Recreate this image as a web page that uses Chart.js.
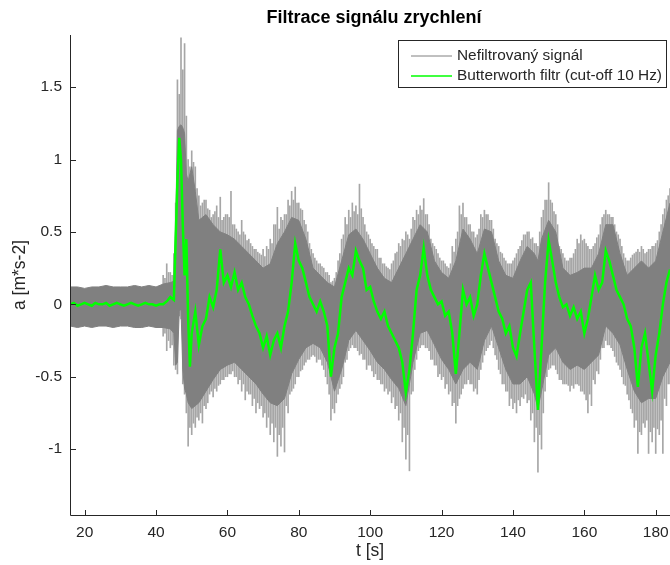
<!DOCTYPE html>
<html>
<head>
<meta charset="utf-8">
<script src="https://cdn.jsdelivr.net/npm/chart.js@4.4.1/dist/chart.umd.min.js"></script>
<style>
  html, body { margin: 0; padding: 0; background: #fff; overflow: hidden; }
  canvas { display: block; }
</style>
</head>
<body>
<canvas id="chart" width="670" height="565"></canvas>
<script>
// Axis ticks
const xTicks = [20, 40, 60, 80, 100, 120, 140, 160, 180];
const yTicks = [-1, -0.5, 0, 0.5, 1, 1.5];
const chartTitle = "Filtrace signálu zrychlení";

// Unfiltered signal - dense band (upper / lower envelope)
const tCore = [16, 18, 20, 22, 24, 26, 28, 30, 32, 34, 36, 38, 40, 42, 44,
  45, 45.5, 46, 46.5, 47, 47.5, 48, 48.5, 49, 50, 51, 52,
  54, 56, 58, 60, 62, 64, 66, 68, 70, 72, 74, 76, 78, 80, 82, 84, 86, 88, 90, 92,
  94, 96, 98, 100, 102, 104, 106, 108, 110, 112, 114, 116, 118, 120, 122, 124, 126, 128, 130, 132,
  134, 136, 138, 140, 142, 144, 146, 147, 148,
  150, 152, 154, 156, 158, 160, 162, 164, 166, 168, 170, 172, 174, 176, 178, 180, 182, 184];
const coreHi = [0.12, 0.12, 0.11, 0.12, 0.12, 0.13, 0.12, 0.12, 0.12, 0.13, 0.12, 0.13, 0.12, 0.14, 0.15,
  0.16, 0.55, 1.2, 1.23, 1.24, 1.22, 1.18, 0.9, 0.85, 0.95, 0.78, 0.58,
  0.62, 0.55, 0.5, 0.48, 0.45, 0.4, 0.35, 0.3, 0.25, 0.28, 0.42, 0.5, 0.6, 0.58, 0.45, 0.25, 0.2, 0.15, 0.12, 0.3,
  0.48, 0.52, 0.45, 0.35, 0.25, 0.18, 0.15, 0.25, 0.35, 0.45, 0.55, 0.5, 0.3, 0.22, 0.18, 0.3, 0.52, 0.45, 0.35, 0.52,
  0.5, 0.3, 0.2, 0.18, 0.3, 0.4, 0.35, 0.3, 0.45,
  0.58, 0.5, 0.25, 0.2, 0.22, 0.25, 0.25, 0.35, 0.55, 0.55, 0.35, 0.2, 0.25, 0.3, 0.25, 0.3, 0.5, 0.7];
const coreLo = [-0.15, -0.16, -0.15, -0.16, -0.15, -0.15, -0.16, -0.15, -0.15, -0.16, -0.16, -0.15, -0.16, -0.16, -0.17,
  -0.2, -0.42, -0.4, -0.05, -0.03, -0.45, -0.58, -0.62, -0.68, -0.72, -0.7, -0.68,
  -0.6, -0.52, -0.45, -0.42, -0.4, -0.45, -0.5, -0.55, -0.62, -0.68, -0.7, -0.65, -0.48, -0.38, -0.3, -0.27, -0.3, -0.4, -0.6, -0.45,
  -0.25, -0.18, -0.25, -0.32, -0.4, -0.45, -0.52, -0.58, -0.7, -0.4, -0.2, -0.18, -0.28, -0.38, -0.45, -0.55, -0.45, -0.4, -0.45, -0.25,
  -0.15, -0.3, -0.45, -0.55, -0.55, -0.5, -0.62, -0.72, -0.6,
  -0.35, -0.3, -0.4, -0.45, -0.42, -0.45, -0.4, -0.35, -0.15, -0.2, -0.28, -0.45, -0.6, -0.68, -0.65, -0.65, -0.5, -0.4];

// Unfiltered signal - single spikes beyond the band (whole seconds)
const tSpike = [42, 43, 44, 45, 46, 47, 48, 49, 50, 51, 52, 53, 54, 55, 56, 57, 58, 59, 60, 61,
  62, 63, 64, 65, 66, 67, 68, 69, 70, 71, 72, 73, 74, 75, 76, 77, 78, 79, 80, 81,
  82, 83, 84, 85, 86, 87, 88, 89, 90, 91, 92, 93, 94, 95, 96, 97, 98, 99, 100, 101,
  102, 103, 104, 105, 106, 107, 108, 109, 110, 111, 112, 113, 114, 115, 116, 117, 118, 119, 120, 121,
  122, 123, 124, 125, 126, 127, 128, 129, 130, 131, 132, 133, 134, 135, 136, 137, 138, 139, 140, 141,
  142, 143, 144, 145, 146, 147, 148, 149, 150, 151, 152, 153, 154, 155, 156, 157, 158, 159, 160, 161,
  162, 163, 164, 165, 166, 167, 168, 169, 170, 171, 172, 173, 174, 175, 176, 177, 178, 179, 180, 181,
  182, 183, 184];
const spikeHi = [0.2, 0.28, 0.22, 0.35, 1.55, 1.84, 1.8, 1.0, 1.06, 0.95, 0.75, 0.7, 0.72, 0.65, 0.62, 0.68, 0.74, 0.6, 0.62, 0.78,
  0.55, 0.5, 0.58, 0.48, 0.45, 0.4, 0.38, 0.35, 0.38, 0.4, 0.45, 0.55, 0.67, 0.6, 0.62, 0.72, 0.78, 0.81, 0.7, 0.65,
  0.55, 0.42, 0.35, 0.3, 0.28, 0.25, 0.22, 0.15, 0.18, 0.3, 0.45, 0.6, 0.65, 0.7, 0.68, 0.83, 0.6, 0.5, 0.45, 0.4,
  0.38, 0.32, 0.28, 0.25, 0.28, 0.35, 0.42, 0.45, 0.5, 0.45, 0.6, 0.65, 0.68, 0.73, 0.62, 0.45, 0.4, 0.35, 0.3, 0.28,
  0.25, 0.4, 0.45, 0.68, 0.7, 0.6, 0.55, 0.5, 0.48, 0.62, 0.65, 0.62, 0.58, 0.45, 0.4, 0.35, 0.3, 0.28, 0.3, 0.35,
  0.4, 0.48, 0.5, 0.45, 0.42, 0.4, 0.6, 0.72, 0.84, 0.7, 0.62, 0.4, 0.35, 0.3, 0.32, 0.35, 0.45, 0.48, 0.45, 0.4,
  0.38, 0.42, 0.48, 0.6, 0.65, 0.62, 0.6, 0.5, 0.45, 0.35, 0.3, 0.32, 0.35, 0.38, 0.4, 0.35, 0.38, 0.4, 0.42, 0.5,
  0.62, 0.72, 0.8];
const spikeLo = [-0.22, -0.32, -0.3, -0.42, -0.48, -0.1, -0.62, -0.98, -0.9, -0.85, -0.8, -0.82, -0.72, -0.62, -0.64, -0.6, -0.55, -0.52, -0.5, -0.48,
  -0.5, -0.55, -0.6, -0.66, -0.62, -0.7, -0.75, -0.72, -0.78, -0.85, -0.9, -0.95, -1.05, -0.98, -1.02, -0.75, -0.6, -0.55, -0.5, -0.45,
  -0.4, -0.38, -0.35, -0.4, -0.38, -0.45, -0.55, -0.8, -0.75, -0.62, -0.55, -0.4, -0.32, -0.28, -0.3, -0.35, -0.38, -0.45, -0.42, -0.5,
  -0.52, -0.55, -0.6, -0.62, -0.68, -0.72, -0.8, -0.95, -1.07, -1.15, -0.6, -0.38, -0.3, -0.28, -0.3, -0.38, -0.42, -0.5, -0.52, -0.58,
  -0.62, -0.7, -0.82, -0.65, -0.58, -0.55, -0.55, -0.6, -0.62, -0.45, -0.35, -0.3, -0.25, -0.35, -0.45, -0.55, -0.6, -0.7, -0.72, -0.75,
  -0.7, -0.65, -0.68, -0.8, -0.95, -1.16, -1.0, -0.6, -0.45, -0.42, -0.45, -0.52, -0.55, -0.55, -0.6, -0.58, -0.55, -0.6, -0.62, -0.75,
  -0.7, -0.55, -0.48, -0.3, -0.25, -0.28, -0.32, -0.4, -0.45, -0.55, -0.62, -0.72, -0.85, -1.03, -0.9, -0.85, -1.03, -0.95, -1.03, -0.9,
  -1.03, -0.7, -0.55];

// Unfiltered signal - spikes in between (half seconds)
const tSpike2 = [42.5, 43.5, 44.5, 45.5, 46.5, 47.5, 48.5, 49.5, 50.5, 51.5, 52.5, 53.5, 54.5, 55.5, 56.5, 57.5, 58.5, 59.5, 60.5, 61.5,
  62.5, 63.5, 64.5, 65.5, 66.5, 67.5, 68.5, 69.5, 70.5, 71.5, 72.5, 73.5, 74.5, 75.5, 76.5, 77.5, 78.5, 79.5, 80.5, 81.5,
  82.5, 83.5, 84.5, 85.5, 86.5, 87.5, 88.5, 89.5, 90.5, 91.5, 92.5, 93.5, 94.5, 95.5, 96.5, 97.5, 98.5, 99.5, 100.5, 101.5,
  102.5, 103.5, 104.5, 105.5, 106.5, 107.5, 108.5, 109.5, 110.5, 111.5, 112.5, 113.5, 114.5, 115.5, 116.5, 117.5, 118.5, 119.5, 120.5, 121.5,
  122.5, 123.5, 124.5, 125.5, 126.5, 127.5, 128.5, 129.5, 130.5, 131.5, 132.5, 133.5, 134.5, 135.5, 136.5, 137.5, 138.5, 139.5, 140.5, 141.5,
  142.5, 143.5, 144.5, 145.5, 146.5, 147.5, 148.5, 149.5, 150.5, 151.5, 152.5, 153.5, 154.5, 155.5, 156.5, 157.5, 158.5, 159.5, 160.5, 161.5,
  162.5, 163.5, 164.5, 165.5, 166.5, 167.5, 168.5, 169.5, 170.5, 171.5, 172.5, 173.5, 174.5, 175.5, 176.5, 177.5, 178.5, 179.5, 180.5, 181.5,
  182.5, 183.5];
const spike2Hi = [0.18, 0.22, 0.2, 0.7, 1.45, 1.62, 1.3, 0.95, 0.98, 0.8, 0.68, 0.72, 0.66, 0.6, 0.64, 0.6, 0.58, 0.62, 0.6, 0.55,
  0.52, 0.48, 0.5, 0.44, 0.42, 0.38, 0.36, 0.34, 0.33, 0.38, 0.42, 0.55, 0.52, 0.58, 0.62, 0.68, 0.72, 0.7, 0.66, 0.58,
  0.5, 0.38, 0.32, 0.28, 0.26, 0.22, 0.2, 0.16, 0.22, 0.35, 0.48, 0.55, 0.6, 0.64, 0.62, 0.66, 0.55, 0.48, 0.42, 0.38,
  0.32, 0.28, 0.26, 0.24, 0.3, 0.36, 0.4, 0.44, 0.48, 0.52, 0.58, 0.62, 0.65, 0.62, 0.55, 0.42, 0.38, 0.32, 0.3, 0.26,
  0.28, 0.36, 0.5, 0.62, 0.6, 0.55, 0.5, 0.46, 0.52, 0.6, 0.62, 0.58, 0.52, 0.42, 0.36, 0.32, 0.28, 0.28, 0.32, 0.38,
  0.44, 0.48, 0.5, 0.46, 0.42, 0.5, 0.65, 0.72, 0.72, 0.64, 0.55, 0.38, 0.32, 0.3, 0.32, 0.38, 0.42, 0.44, 0.42, 0.38,
  0.4, 0.46, 0.55, 0.62, 0.62, 0.6, 0.55, 0.48, 0.4, 0.32, 0.3, 0.34, 0.36, 0.36, 0.38, 0.36, 0.38, 0.4, 0.44, 0.55,
  0.66, 0.75];
const spike2Lo = [-0.2, -0.25, -0.28, -0.45, -0.08, -0.55, -0.75, -0.85, -0.82, -0.78, -0.75, -0.7, -0.68, -0.6, -0.58, -0.56, -0.52, -0.5, -0.48, -0.46,
  -0.5, -0.52, -0.55, -0.6, -0.62, -0.65, -0.68, -0.7, -0.75, -0.78, -0.82, -0.85, -0.9, -0.85, -0.7, -0.62, -0.58, -0.5, -0.46, -0.42,
  -0.38, -0.36, -0.36, -0.38, -0.42, -0.5, -0.62, -0.72, -0.68, -0.58, -0.5, -0.38, -0.3, -0.3, -0.32, -0.34, -0.38, -0.42, -0.46, -0.48,
  -0.52, -0.55, -0.58, -0.6, -0.64, -0.7, -0.75, -0.85, -0.9, -0.62, -0.45, -0.32, -0.28, -0.3, -0.32, -0.38, -0.42, -0.48, -0.5, -0.55,
  -0.6, -0.68, -0.7, -0.62, -0.55, -0.52, -0.55, -0.58, -0.52, -0.4, -0.32, -0.28, -0.3, -0.38, -0.48, -0.55, -0.6, -0.65, -0.68, -0.66,
  -0.64, -0.62, -0.66, -0.75, -0.85, -0.9, -0.75, -0.5, -0.44, -0.42, -0.48, -0.52, -0.55, -0.56, -0.56, -0.55, -0.56, -0.6, -0.66, -0.62,
  -0.52, -0.46, -0.38, -0.3, -0.28, -0.3, -0.36, -0.42, -0.5, -0.56, -0.66, -0.75, -0.8, -0.88, -0.82, -0.8, -0.88, -0.85, -0.86, -0.8,
  -0.65, -0.55];

// Butterworth filtered signal
const tGreen = [16, 17, 18, 19, 20, 21, 22, 23, 24, 25, 26, 27, 28, 29, 30, 31, 32, 33, 34, 35,
  36, 37, 38, 39, 40, 41, 42, 43, 44, 45, 45.5, 46, 46.5, 47, 47.5, 48, 48.5, 49, 49.5, 50,
  51, 52, 53, 54, 55, 56, 57, 58, 59, 60, 61, 62, 63, 64, 65, 66, 67, 68, 69, 70,
  71, 72, 73, 74, 75, 76, 77, 78, 79, 80, 81, 82, 83, 84, 85, 86, 87, 88, 89, 90,
  91, 92, 93, 94, 95, 96, 97, 98, 99, 100, 101, 102, 103, 104, 105, 106, 107, 108, 109, 110,
  111, 112, 113, 114, 115, 116, 117, 118, 119, 120, 121, 122, 123, 124, 125, 126, 127, 128, 129, 130,
  131, 132, 133, 134, 135, 136, 137, 138, 139, 140, 141, 142, 143, 144, 145, 146, 147, 148, 149, 150,
  151, 152, 153, 154, 155, 156, 157, 158, 159, 160, 161, 162, 163, 164, 165, 166, 167, 168, 169, 170,
  171, 172, 173, 174, 175, 176, 177, 178, 179, 180, 181, 182, 183, 184];
const filtered = [0.0, 0.01, -0.01, 0.0, 0.01, 0.0, -0.01, 0.01, 0.0, 0.0, 0.01, -0.01, 0.0, 0.01, 0.0, -0.01, 0.0, 0.01, 0.0, -0.01,
  0.0, 0.01, 0.0, 0.0, -0.01, 0.0, 0.0, 0.02, 0.05, 0.03, 0.45, 0.85, 1.15, 1.0, 0.55, 0.2, 0.45, -0.1, -0.43, -0.2,
  -0.05, -0.28, -0.15, -0.1, 0.05, -0.02, 0.1, 0.38, 0.15, 0.2, 0.12, 0.22, 0.1, 0.15, 0.05, 0.0, -0.08, -0.15, -0.2, -0.3,
  -0.22, -0.35, -0.25, -0.2, -0.3, -0.15, -0.05, 0.15, 0.42, 0.3, 0.25, 0.15, 0.05, 0.0, -0.05, 0.02, -0.05, -0.15, -0.5, -0.3,
  -0.2, 0.05, 0.15, 0.25, 0.2, 0.37, 0.3, 0.25, 0.1, 0.12, 0.02, -0.05, -0.1, -0.05, -0.15, -0.2, -0.25, -0.3, -0.4, -0.61,
  -0.45, -0.2, 0.1, 0.2, 0.39, 0.2, 0.1, 0.05, 0.0, 0.02, -0.08, -0.05, -0.2, -0.48, -0.2, 0.1, 0.0, 0.05, -0.08, 0.0,
  0.2, 0.35, 0.25, 0.15, 0.05, -0.05, -0.1, -0.2, -0.15, -0.3, -0.36, -0.2, -0.05, 0.1, 0.15, -0.3, -0.73, -0.3, 0.15, 0.44,
  0.3, 0.15, 0.05, -0.02, 0.0, -0.08, -0.02, -0.1, -0.05, -0.2, -0.1, 0.05, 0.2, 0.1, 0.15, 0.37, 0.3, 0.2, 0.1, 0.05,
  0.0, -0.1, -0.15, -0.3, -0.57, -0.3, -0.2, -0.4, -0.6, -0.35, -0.2, 0.0, 0.15, 0.24];

const axisColor = "#262626";
const grayColor = "#808080";
const spikeColor = "#a6a6a6";
const greenColor = "#00ff00";
const fontFamily = '"Liberation Sans", Arial, Helvetica, sans-serif';

const toPoints = (ts, vals) => ts.map((t, i) => ({ x: t, y: vals[i] }));
const toRanges = (ts, lo, hi) => ts.map((t, i) => ({ x: t, y: [lo[i], hi[i]] }));

// Axes drawn MATLAB style: inward ticks, no box, boxed legend, title over the full axes
const matlabLook = {
  id: "matlabLook",
  afterDraw(chart) {
    const ctx = chart.ctx;
    const area = chart.chartArea;
    const xs = chart.scales.x;
    const ys = chart.scales.y;
    ctx.save();
    ctx.strokeStyle = axisColor;
    ctx.lineWidth = 1;
    ctx.beginPath();
    ctx.moveTo(area.left + 0.5, area.top);
    ctx.lineTo(area.left + 0.5, area.bottom + 0.5);
    ctx.lineTo(area.right, area.bottom + 0.5);
    xTicks.forEach((v) => {
      const px = Math.round(xs.getPixelForValue(v)) + 0.5;
      ctx.moveTo(px, area.bottom);
      ctx.lineTo(px, area.bottom - 5);
    });
    yTicks.forEach((v) => {
      const py = Math.round(ys.getPixelForValue(v)) + 0.5;
      ctx.moveTo(area.left, py);
      ctx.lineTo(area.left + 6, py);
    });
    ctx.stroke();

    // title (the original axes run on past the right edge)
    ctx.fillStyle = "#000";
    ctx.font = "bold 18px " + fontFamily;
    ctx.textAlign = "center";
    ctx.textBaseline = "middle";
    ctx.fillText(chartTitle, 374, 18);

    // legend
    const items = chart.data.datasets
      .filter((d) => d.legendRank !== undefined)
      .sort((a, b) => a.legendRank - b.legendRank);
    const bx = 398.5, by = 40.5, bw = 268, bh = 47;
    ctx.fillStyle = "#fff";
    ctx.fillRect(bx, by, bw, bh);
    ctx.strokeStyle = axisColor;
    ctx.strokeRect(bx, by, bw, bh);
    ctx.font = "15.4px " + fontFamily;
    ctx.textAlign = "left";
    items.forEach((d, i) => {
      const y = by + 15.5 + i * 20;
      ctx.strokeStyle = d.borderColor;
      ctx.lineWidth = d.legendWidth;
      ctx.beginPath();
      ctx.moveTo(411, y);
      ctx.lineTo(452, y);
      ctx.stroke();
      ctx.fillStyle = axisColor;
      ctx.fillText(d.label, 457, y);
    });
    ctx.restore();
  },
};

new Chart(document.getElementById("chart"), {
  type: "line",
  data: {
    datasets: [
      {
        label: "Butterworth filtr (cut-off 10 Hz)",
        data: toPoints(tGreen, filtered),
        borderColor: greenColor,
        borderWidth: 2.5,
        pointRadius: 0,
        fill: false,
        order: 0,
        legendRank: 1,
        legendWidth: 1.5,
      },
      {
        label: "Nefiltrovaný signál",
        data: toPoints(tCore, coreHi),
        borderColor: grayColor,
        backgroundColor: grayColor,
        borderWidth: 1,
        pointRadius: 0,
        fill: 2,
        order: 1,
        legendRank: 0,
        legendWidth: 1,
      },
      {
        label: "lower",
        data: toPoints(tCore, coreLo),
        borderColor: grayColor,
        borderWidth: 1,
        pointRadius: 0,
        fill: false,
        order: 2,
      },
      {
        type: "bar",
        label: "spikes",
        data: toRanges(tSpike, spikeLo, spikeHi),
        backgroundColor: spikeColor,
        barThickness: 1,
        grouped: false,
        order: 3,
      },
      {
        type: "bar",
        label: "spikes2",
        data: toRanges(tSpike2, spike2Lo, spike2Hi),
        backgroundColor: spikeColor,
        barThickness: 1,
        grouped: false,
        order: 4,
      },
    ],
  },
  options: {
    responsive: false,
    animation: false,
    devicePixelRatio: 1,
    events: [],
    layout: { padding: { top: 35 } },
    plugins: {
      legend: { display: false },
      tooltip: { enabled: false },
      title: { display: false },
    },
    scales: {
      x: {
        type: "linear",
        min: 15.9,
        max: 184,
        offset: false,
        grid: { display: false, drawTicks: false },
        border: { display: false },
        afterBuildTicks: (scale) => {
          scale.ticks = xTicks.map((v) => ({ value: v }));
        },
        afterFit: (scale) => {
          scale.height = 50;
          scale.paddingLeft = 0;
          scale.paddingRight = 0;
        },
        ticks: {
          color: axisColor,
          padding: 8,
          maxRotation: 0,
          font: { family: fontFamily, size: 15.5 },
          callback: (v) => String(v),
        },
        title: {
          display: true,
          text: "t [s]",
          color: axisColor,
          font: { family: fontFamily, size: 17.5 },
          padding: { top: 0, bottom: 3.5 },
        },
      },
      y: {
        min: -1.455,
        max: 1.86,
        grid: { display: false, drawTicks: false },
        border: { display: false },
        afterBuildTicks: (scale) => {
          scale.ticks = yTicks.map((v) => ({ value: v }));
        },
        afterFit: (scale) => {
          scale.width = 70;
          scale.paddingTop = 0;
          scale.paddingBottom = 0;
        },
        ticks: {
          color: axisColor,
          padding: 8,
          font: { family: fontFamily, size: 15.5 },
          callback: (v) => String(v),
        },
        title: {
          display: true,
          text: "a [m*s-2]",
          color: axisColor,
          font: { family: fontFamily, size: 17.5 },
          padding: { top: 9.5, bottom: 0 },
        },
      },
    },
  },
  plugins: [matlabLook],
});
</script>
</body>
</html>
